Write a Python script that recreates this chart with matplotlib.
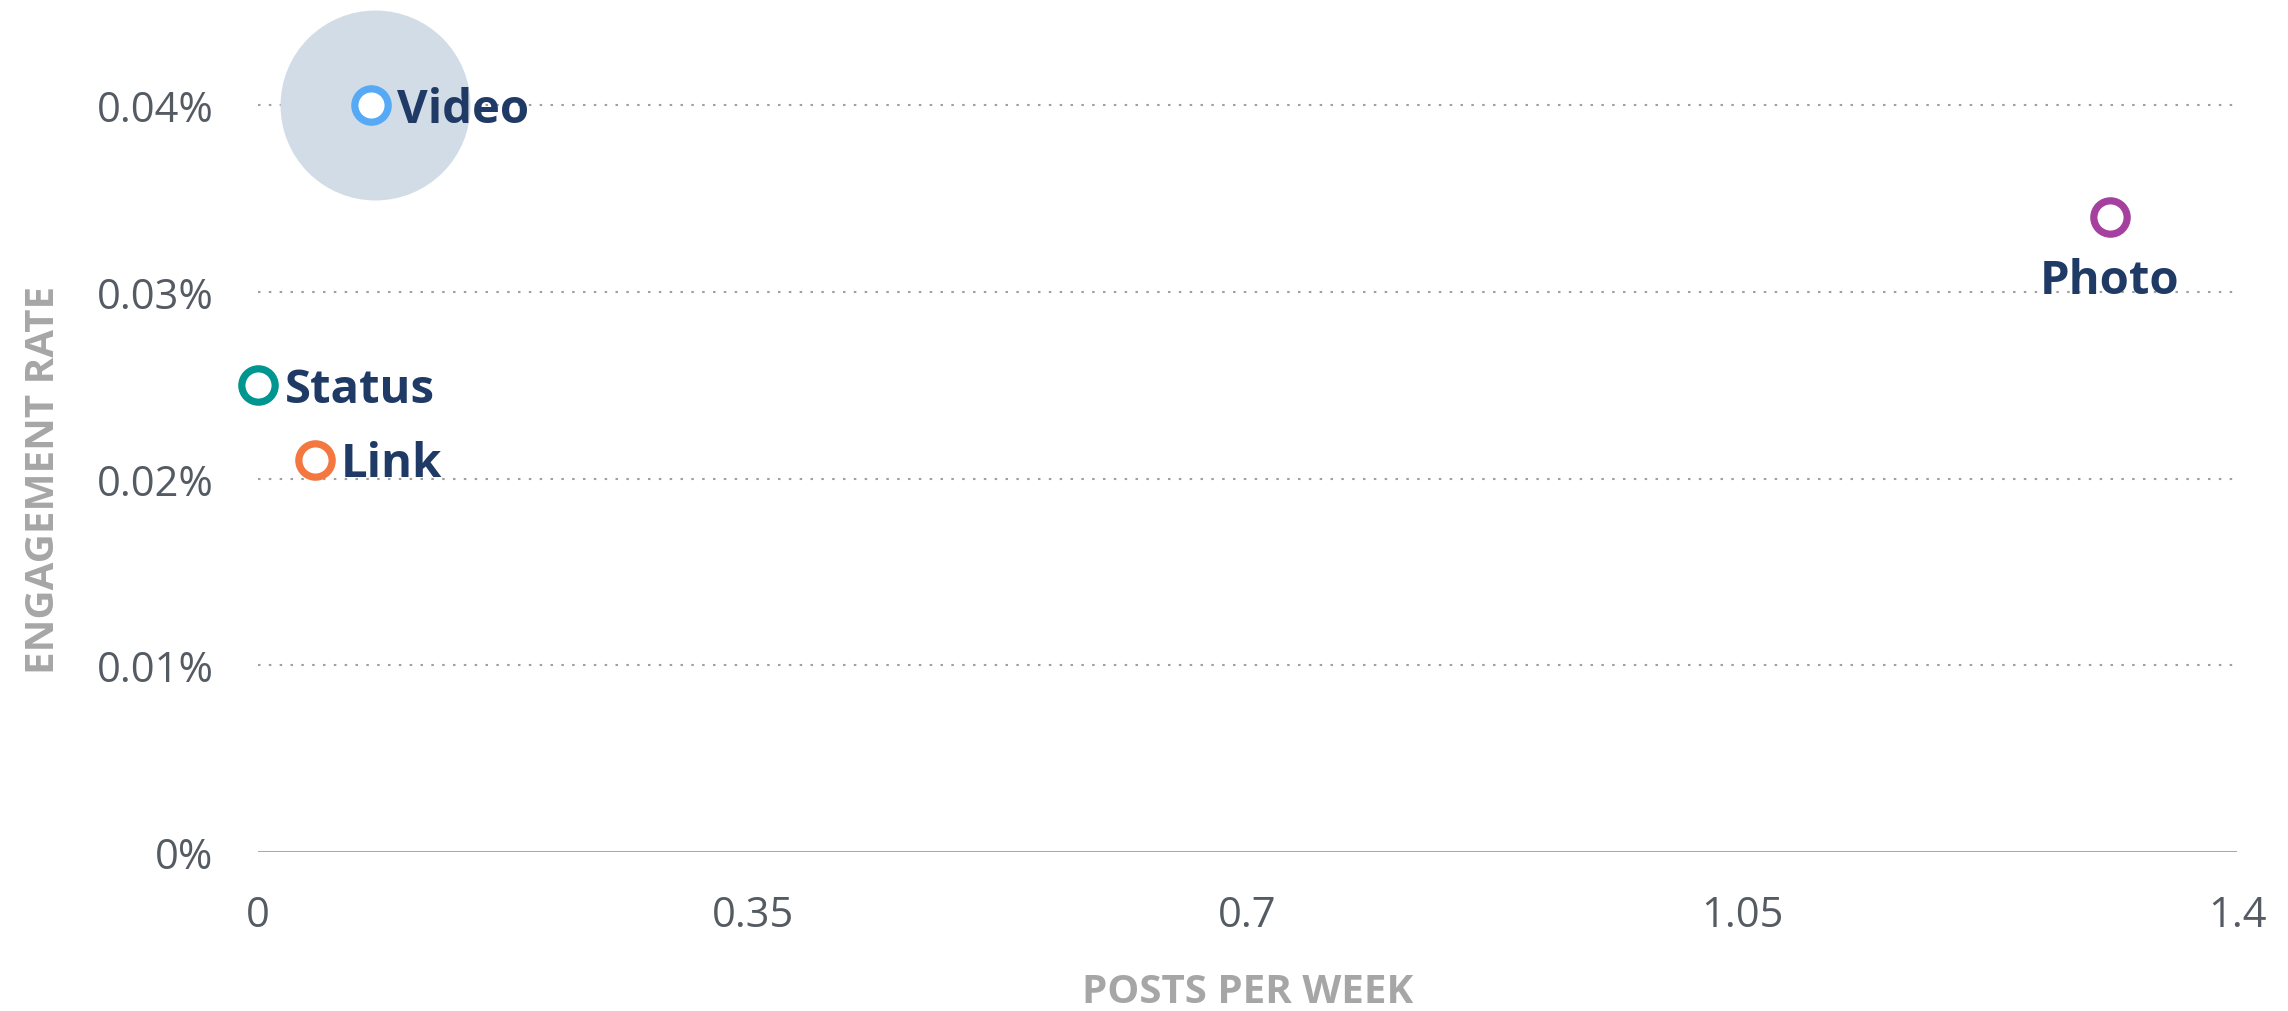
import matplotlib.pyplot as plt

# data
post_types = ["Video", "Photo", "Status", "Link"]
posts_per_week = [0.08, 1.31, 0.0, 0.04]
engagement_rate = [0.040, 0.034, 0.025, 0.021]
marker_colors = ["#55A9F5", "#A6409F", "#009690", "#F47740"]

highlight_x = [0.083]
highlight_y = [0.040]

x_ticks = [0, 0.35, 0.7, 1.05, 1.4]
x_tick_labels = ["0", "0.35", "0.7", "1.05", "1.4"]
y_ticks = [0, 0.01, 0.02, 0.03, 0.04]
y_tick_labels = ["0%", "0.01%", "0.02%", "0.03%", "0.04%"]

plt.rcParams['font.family'] = ['Open Sans', 'DejaVu Sans']

fig = plt.figure(figsize=(22.88, 10.12), dpi=100)
ax = fig.add_axes([258 / 2288, 1 - 853 / 1012, (2237 - 258) / 2288, (853 - 106) / 1012])
ax.set_xlim(0, 1.4)
ax.set_ylim(0, 0.04)

# grid lines (dotted) and baseline
for yv in y_ticks[1:]:
    ax.axhline(yv, color="#A0A0A0", linewidth=1.5, linestyle=(0, (1.2, 4)), zorder=1, clip_on=False)
ax.axhline(0, color="#AAAAAA", linewidth=2.2, zorder=1)

# highlight bubble
ax.scatter(highlight_x, highlight_y, s=18700, color="#D2DCE6", zorder=2, clip_on=False, linewidths=0)

# ring markers
for x, y, c in zip(posts_per_week, engagement_rate, marker_colors):
    ax.plot([x], [y], marker="o", markersize=24, markerfacecolor="white",
            markeredgecolor=c, markeredgewidth=5.2, zorder=4, clip_on=False)

# labels
label_style = dict(color="#203A66", fontsize=34, fontweight="bold", zorder=5)
for name, x, y in zip(post_types, posts_per_week, engagement_rate):
    if name == "Photo":
        ax.annotate(name, (x, y), xytext=(0, -29), textcoords="offset points",
                    ha="center", va="top", **label_style)
    else:
        ax.annotate(name, (x, y), xytext=(19, -3), textcoords="offset points",
                    ha="left", va="center", **label_style)

for s in ax.spines.values():
    s.set_visible(False)

ax.set_xticks(x_ticks)
ax.set_xticklabels(x_tick_labels)
ax.set_yticks(y_ticks)
ax.set_yticklabels(y_tick_labels)
ax.tick_params(axis="both", length=0, labelsize=30, labelcolor="#555B62")
ax.tick_params(axis="x", pad=30)
ax.tick_params(axis="y", pad=32)

ax.set_xlabel("POSTS PER WEEK", fontsize=29, fontweight="bold", color="#A6A6A6", labelpad=26)
ax.set_ylabel("ENGAGEMENT RATE", fontsize=29, fontweight="bold", color="#A6A6A6", labelpad=24)

fig.savefig("out.png", dpi=100, facecolor="white")
